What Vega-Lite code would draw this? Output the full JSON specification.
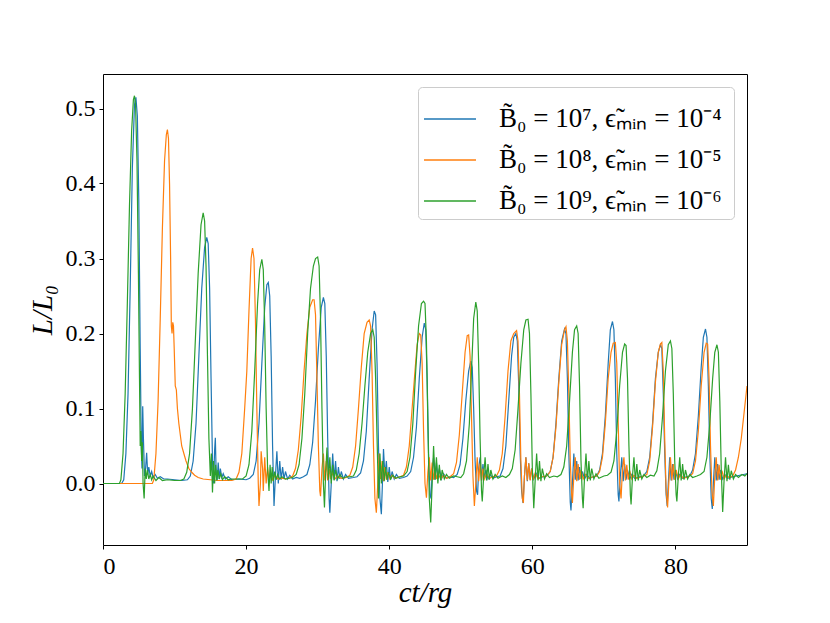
{
  "$schema": "https://vega.github.io/schema/vega-lite/v6.json",
  "width": 644,
  "height": 471,
  "autosize": "none",
  "padding": {"left": 103, "top": 74, "right": 83, "bottom": 78},
  "background": "white",
  "config": {
    "font": "Liberation Serif",
    "view": {"stroke": "#000000", "strokeWidth": 1},
    "axis": {
      "domain": false,
      "grid": false,
      "ticks": true,
      "tickColor": "#000000",
      "tickSize": 4,
      "labelFont": "Liberation Serif",
      "labelFontSize": 24,
      "labelColor": "#000000",
      "titleFont": "Liberation Serif",
      "titleFontSize": 29,
      "titleFontWeight": "normal",
      "titleFontStyle": "italic",
      "titleColor": "#000000"
    },
    "legend": {"labelFont": "Liberation Serif"}
  },
  "encoding": {
    "x": {
      "field": "t",
      "type": "quantitative",
      "scale": {"domain": [0, 90], "nice": false, "zero": false},
      "axis": {"values": [0, 20, 40, 60, 80], "format": "d", "labelFont": "Liberation Serif", "labelFontSize": 24, "labelPadding": 5, "title": "ct/rg", "titlePadding": 0}
    },
    "y": {
      "field": "L",
      "type": "quantitative",
      "scale": {"domain": [-0.082, 0.546], "nice": false, "zero": false},
      "axis": {"values": [0, 0.1, 0.2, 0.3, 0.4, 0.5], "format": ".1f", "labelFont": "Liberation Serif", "labelFontSize": 24, "labelPadding": 4, "title": "L/L₀", "titlePadding": 8}
    }
  },
  "layer": [
    {
      "data": {"values": [
        {"t":0,"L":0},{"t":2.6,"L":0},{"t":2.9,"L":0.005},{"t":3.2,"L":0.04},{"t":3.5,"L":0.12},{"t":3.8,"L":0.26},{"t":4.1,"L":0.42},{"t":4.4,"L":0.505},{"t":4.6,"L":0.515},{"t":4.8,"L":0.49},{"t":5.0,"L":0.38},{"t":5.2,"L":0.18},{"t":5.35,"L":0.05},{"t":5.45,"L":0.02},{"t":5.55,"L":0.103},{"t":5.65,"L":0.06},{"t":5.8,"L":0.01},{"t":5.95,"L":0.02},{"t":6.1,"L":0.041},{"t":6.25,"L":0.012},{"t":6.4,"L":0.022},{"t":6.6,"L":0.01},{"t":6.8,"L":0.016},{"t":7.0,"L":0.008},{"t":7.3,"L":0.012},{"t":7.6,"L":0.007},{"t":8.0,"L":0.009},{"t":8.5,"L":0.006},{"t":9,"L":0.006},{"t":10,"L":0.005},{"t":11,"L":0.004},{"t":11.8,"L":0.005},
        {"t":12.2,"L":0.01},{"t":12.6,"L":0.03},{"t":13.0,"L":0.08},{"t":13.4,"L":0.17},{"t":13.8,"L":0.26},{"t":14.2,"L":0.315},{"t":14.5,"L":0.328},{"t":14.7,"L":0.32},{"t":14.9,"L":0.26},{"t":15.1,"L":0.14},{"t":15.3,"L":0.03},{"t":15.45,"L":0.0},{"t":15.6,"L":0.045},{"t":15.7,"L":0.061},{"t":15.8,"L":0.02},{"t":15.95,"L":0.004},{"t":16.1,"L":0.028},{"t":16.25,"L":0.006},{"t":16.4,"L":0.02},{"t":16.6,"L":0.008},{"t":16.8,"L":0.013},{"t":17.1,"L":0.006},{"t":17.5,"L":0.009},{"t":18,"L":0.005},{"t":19,"L":0.006},{"t":20,"L":0.005},
        {"t":20.5,"L":0.007},{"t":21.0,"L":0.012},{"t":21.4,"L":0.03},{"t":21.8,"L":0.08},{"t":22.2,"L":0.16},{"t":22.6,"L":0.235},{"t":22.9,"L":0.265},{"t":23.1,"L":0.268},{"t":23.3,"L":0.25},{"t":23.5,"L":0.17},{"t":23.7,"L":0.05},{"t":23.9,"L":-0.03},{"t":24.1,"L":0.01},{"t":24.3,"L":0.043},{"t":24.5,"L":0.0},{"t":24.7,"L":0.03},{"t":24.9,"L":0.005},{"t":25.1,"L":0.022},{"t":25.3,"L":0.006},{"t":25.5,"L":0.016},{"t":25.8,"L":0.006},{"t":26.1,"L":0.011},{"t":26.5,"L":0.006},{"t":27,"L":0.008},{"t":27.5,"L":0.007},
        {"t":28,"L":0.009},{"t":28.5,"L":0.012},{"t":28.9,"L":0.025},{"t":29.3,"L":0.055},{"t":29.7,"L":0.11},{"t":30.1,"L":0.18},{"t":30.5,"L":0.235},{"t":30.8,"L":0.248},{"t":31.0,"L":0.24},{"t":31.2,"L":0.17},{"t":31.4,"L":0.06},{"t":31.6,"L":-0.02},{"t":31.7,"L":-0.039},{"t":31.9,"L":0.0},{"t":32.1,"L":0.04},{"t":32.3,"L":0.005},{"t":32.5,"L":0.03},{"t":32.7,"L":0.003},{"t":32.9,"L":0.022},{"t":33.1,"L":0.006},{"t":33.3,"L":0.016},{"t":33.6,"L":0.006},{"t":33.9,"L":0.012},{"t":34.3,"L":0.007},{"t":35,"L":0.008},{"t":35.5,"L":0.009},
        {"t":36.0,"L":0.014},{"t":36.4,"L":0.03},{"t":36.8,"L":0.07},{"t":37.2,"L":0.14},{"t":37.6,"L":0.205},{"t":37.9,"L":0.23},{"t":38.1,"L":0.225},{"t":38.3,"L":0.16},{"t":38.5,"L":0.05},{"t":38.7,"L":-0.02},{"t":38.9,"L":-0.041},{"t":39.05,"L":0.0},{"t":39.2,"L":0.046},{"t":39.4,"L":0.01},{"t":39.6,"L":0.03},{"t":39.8,"L":0.002},{"t":40.0,"L":0.022},{"t":40.2,"L":0.005},{"t":40.4,"L":0.016},{"t":40.7,"L":0.006},{"t":41.0,"L":0.012},{"t":41.4,"L":0.007},{"t":42,"L":0.008},{"t":42.5,"L":0.01},
        {"t":43.0,"L":0.016},{"t":43.4,"L":0.035},{"t":43.8,"L":0.075},{"t":44.2,"L":0.14},{"t":44.6,"L":0.195},{"t":44.9,"L":0.214},{"t":45.1,"L":0.205},{"t":45.3,"L":0.14},{"t":45.5,"L":0.04},{"t":45.7,"L":-0.015},{"t":45.85,"L":-0.02},{"t":46.0,"L":0.015},{"t":46.2,"L":0.035},{"t":46.4,"L":0.005},{"t":46.6,"L":0.028},{"t":46.8,"L":0.006},{"t":47.0,"L":0.02},{"t":47.3,"L":0.006},{"t":47.6,"L":0.013},{"t":48.0,"L":0.007},{"t":48.5,"L":0.009},{"t":49,"L":0.008},
        {"t":49.5,"L":0.012},{"t":49.9,"L":0.025},{"t":50.3,"L":0.06},{"t":50.7,"L":0.11},{"t":51.1,"L":0.15},{"t":51.4,"L":0.163},{"t":51.6,"L":0.155},{"t":51.8,"L":0.1},{"t":52.0,"L":0.03},{"t":52.2,"L":-0.01},{"t":52.35,"L":-0.015},{"t":52.5,"L":0.02},{"t":52.7,"L":0.035},{"t":52.9,"L":0.004},{"t":53.1,"L":0.026},{"t":53.3,"L":0.006},{"t":53.5,"L":0.018},{"t":53.8,"L":0.006},{"t":54.1,"L":0.012},{"t":54.5,"L":0.007},{"t":55,"L":0.009},
        {"t":55.5,"L":0.01},{"t":55.9,"L":0.02},{"t":56.3,"L":0.05},{"t":56.7,"L":0.11},{"t":57.1,"L":0.17},{"t":57.4,"L":0.195},{"t":57.7,"L":0.2},{"t":57.9,"L":0.19},{"t":58.1,"L":0.13},{"t":58.3,"L":0.04},{"t":58.5,"L":-0.01},{"t":58.7,"L":-0.026},{"t":58.9,"L":0.01},{"t":59.1,"L":0.035},{"t":59.3,"L":0.003},{"t":59.5,"L":0.027},{"t":59.7,"L":0.005},{"t":59.9,"L":0.02},{"t":60.2,"L":0.006},{"t":60.5,"L":0.014},{"t":60.9,"L":0.007},{"t":61.5,"L":0.009},{"t":62,"L":0.01},
        {"t":62.5,"L":0.016},{"t":62.9,"L":0.035},{"t":63.3,"L":0.08},{"t":63.7,"L":0.14},{"t":64.1,"L":0.19},{"t":64.5,"L":0.206},{"t":64.7,"L":0.2},{"t":64.9,"L":0.14},{"t":65.1,"L":0.04},{"t":65.3,"L":-0.025},{"t":65.4,"L":-0.036},{"t":65.6,"L":0.0},{"t":65.8,"L":0.04},{"t":66.0,"L":0.005},{"t":66.2,"L":0.03},{"t":66.4,"L":0.004},{"t":66.6,"L":0.022},{"t":66.8,"L":0.006},{"t":67.0,"L":0.016},{"t":67.3,"L":0.006},{"t":67.6,"L":0.012},{"t":68,"L":0.007},{"t":68.5,"L":0.009},{"t":69,"L":0.01},
        {"t":69.4,"L":0.018},{"t":69.8,"L":0.04},{"t":70.2,"L":0.09},{"t":70.6,"L":0.16},{"t":70.9,"L":0.205},{"t":71.2,"L":0.216},{"t":71.4,"L":0.205},{"t":71.6,"L":0.14},{"t":71.8,"L":0.04},{"t":72.0,"L":-0.015},{"t":72.1,"L":-0.024},{"t":72.3,"L":0.01},{"t":72.5,"L":0.035},{"t":72.7,"L":0.003},{"t":72.9,"L":0.026},{"t":73.1,"L":0.005},{"t":73.3,"L":0.018},{"t":73.6,"L":0.006},{"t":73.9,"L":0.012},{"t":74.3,"L":0.007},{"t":75,"L":0.009},{"t":75.5,"L":0.01},
        {"t":76.0,"L":0.016},{"t":76.4,"L":0.035},{"t":76.8,"L":0.08},{"t":77.2,"L":0.14},{"t":77.6,"L":0.175},{"t":77.9,"L":0.185},{"t":78.1,"L":0.18},{"t":78.3,"L":0.12},{"t":78.5,"L":0.04},{"t":78.7,"L":-0.015},{"t":78.85,"L":-0.03},{"t":79.0,"L":0.0},{"t":79.2,"L":0.035},{"t":79.4,"L":0.004},{"t":79.6,"L":0.026},{"t":79.8,"L":0.005},{"t":80.0,"L":0.018},{"t":80.3,"L":0.006},{"t":80.6,"L":0.012},{"t":81,"L":0.007},{"t":81.5,"L":0.009},{"t":82,"L":0.01},
        {"t":82.4,"L":0.018},{"t":82.8,"L":0.04},{"t":83.2,"L":0.09},{"t":83.6,"L":0.155},{"t":83.9,"L":0.195},{"t":84.2,"L":0.206},{"t":84.4,"L":0.195},{"t":84.6,"L":0.13},{"t":84.8,"L":0.04},{"t":85.0,"L":-0.02},{"t":85.15,"L":-0.034},{"t":85.3,"L":0.0},{"t":85.5,"L":0.035},{"t":85.7,"L":0.004},{"t":85.9,"L":0.026},{"t":86.1,"L":0.005},{"t":86.3,"L":0.018},{"t":86.6,"L":0.006},{"t":86.9,"L":0.012},{"t":87.3,"L":0.007},{"t":88,"L":0.009},{"t":88.5,"L":0.01},{"t":89,"L":0.011},{"t":89.5,"L":0.012},{"t":90,"L":0.013}
      ]},
      "mark": {"type": "line", "strokeWidth": 1.2, "clip": true},
      "encoding": {
        "color": {
          "datum": "B̃₀ = 10⁷,  ϵ̃ₘᵢₙ = 10⁻⁴",
          "type": "nominal",
          "scale": {
            "domain": ["B̃₀ = 10⁷,  ϵ̃ₘᵢₙ = 10⁻⁴", "B̃₀ = 10⁸,  ϵ̃ₘᵢₙ = 10⁻⁵", "B̃₀ = 10⁹,  ϵ̃ₘᵢₙ = 10⁻⁶"],
            "range": ["#1f77b4", "#ff7f0e", "#2ca02c"]
          },
          "legend": {
            "title": null,
            "orient": "top-right",
            "offset": 13,
            "padding": 5,
            "fillColor": "white",
            "strokeColor": "#cccccc",
            "cornerRadius": 4,
            "symbolType": "stroke",
            "symbolSize": 2700,
            "symbolStrokeWidth": 1.5,
            "labelFont": "Liberation Serif",
            "labelFontSize": 27,
            "labelColor": "#000000",
            "labelOffset": 22,
            "labelLimit": 400,
            "rowPadding": 1
          }
        }
      }
    },
    {
      "data": {"values": [
        {"t":0,"L":0},{"t":6.9,"L":0},{"t":7.1,"L":0.005},{"t":7.4,"L":0.04},{"t":7.7,"L":0.11},{"t":8.0,"L":0.22},{"t":8.3,"L":0.34},{"t":8.6,"L":0.43},{"t":8.85,"L":0.465},{"t":9.0,"L":0.472},{"t":9.15,"L":0.46},{"t":9.3,"L":0.4},{"t":9.45,"L":0.3},{"t":9.55,"L":0.21},{"t":9.65,"L":0.2},{"t":9.75,"L":0.215},{"t":9.85,"L":0.21},{"t":9.95,"L":0.18},{"t":10.1,"L":0.13},{"t":10.25,"L":0.125},{"t":10.4,"L":0.1},{"t":10.6,"L":0.08},{"t":10.8,"L":0.065},{"t":11.0,"L":0.05},{"t":11.3,"L":0.04},{"t":11.6,"L":0.03},{"t":12.0,"L":0.02},{"t":12.4,"L":0.015},{"t":12.8,"L":0.011},{"t":13.3,"L":0.008},{"t":14,"L":0.006},{"t":15,"L":0.005},{"t":16,"L":0.004},{"t":17,"L":0.004},{"t":18,"L":0.004},
        {"t":18.6,"L":0.006},{"t":19.0,"L":0.015},{"t":19.4,"L":0.04},{"t":19.8,"L":0.1},{"t":20.1,"L":0.15},{"t":20.4,"L":0.23},{"t":20.7,"L":0.3},{"t":20.9,"L":0.314},{"t":21.1,"L":0.3},{"t":21.3,"L":0.22},{"t":21.5,"L":0.1},{"t":21.7,"L":0.0},{"t":21.8,"L":-0.03},{"t":22.0,"L":0.0},{"t":22.1,"L":0.043},{"t":22.3,"L":0.02},{"t":22.4,"L":-0.01},{"t":22.6,"L":0.035},{"t":22.8,"L":0.0},{"t":23.0,"L":0.022},{"t":23.2,"L":0.003},{"t":23.4,"L":0.015},{"t":23.7,"L":0.005},{"t":24,"L":0.01},{"t":24.5,"L":0.006},{"t":25,"L":0.007},{"t":25.5,"L":0.006},{"t":26,"L":0.007},
        {"t":26.5,"L":0.01},{"t":26.9,"L":0.02},{"t":27.3,"L":0.045},{"t":27.7,"L":0.09},{"t":28.1,"L":0.15},{"t":28.5,"L":0.2},{"t":28.9,"L":0.235},{"t":29.3,"L":0.245},{"t":29.5,"L":0.245},{"t":29.7,"L":0.225},{"t":29.9,"L":0.14},{"t":30.1,"L":0.05},{"t":30.3,"L":-0.01},{"t":30.4,"L":-0.017},{"t":30.6,"L":0.02},{"t":30.8,"L":0.04},{"t":31.0,"L":0.004},{"t":31.2,"L":0.03},{"t":31.4,"L":0.004},{"t":31.6,"L":0.02},{"t":31.8,"L":0.006},{"t":32.0,"L":0.014},{"t":32.4,"L":0.006},{"t":32.8,"L":0.01},{"t":33.3,"L":0.007},{"t":34,"L":0.008},
        {"t":34.5,"L":0.011},{"t":34.9,"L":0.022},{"t":35.3,"L":0.05},{"t":35.7,"L":0.1},{"t":36.1,"L":0.155},{"t":36.5,"L":0.2},{"t":36.9,"L":0.215},{"t":37.2,"L":0.218},{"t":37.4,"L":0.21},{"t":37.6,"L":0.15},{"t":37.8,"L":0.05},{"t":38.0,"L":-0.02},{"t":38.2,"L":-0.039},{"t":38.4,"L":0.0},{"t":38.6,"L":0.04},{"t":38.8,"L":0.006},{"t":39.0,"L":0.03},{"t":39.2,"L":0.003},{"t":39.4,"L":0.022},{"t":39.6,"L":0.005},{"t":39.8,"L":0.015},{"t":40.1,"L":0.006},{"t":40.4,"L":0.011},{"t":40.8,"L":0.007},{"t":41.5,"L":0.009},
        {"t":42,"L":0.011},{"t":42.4,"L":0.022},{"t":42.8,"L":0.05},{"t":43.2,"L":0.1},{"t":43.6,"L":0.15},{"t":43.9,"L":0.185},{"t":44.2,"L":0.2},{"t":44.4,"L":0.198},{"t":44.6,"L":0.16},{"t":44.8,"L":0.07},{"t":45.0,"L":0.0},{"t":45.2,"L":-0.019},{"t":45.4,"L":0.015},{"t":45.6,"L":0.035},{"t":45.8,"L":0.004},{"t":46.0,"L":0.028},{"t":46.2,"L":0.005},{"t":46.4,"L":0.02},{"t":46.6,"L":0.006},{"t":46.8,"L":0.014},{"t":47.2,"L":0.006},{"t":47.6,"L":0.011},{"t":48,"L":0.007},{"t":48.5,"L":0.009},
        {"t":49.0,"L":0.013},{"t":49.4,"L":0.028},{"t":49.8,"L":0.065},{"t":50.2,"L":0.12},{"t":50.6,"L":0.175},{"t":50.9,"L":0.197},{"t":51.1,"L":0.198},{"t":51.3,"L":0.17},{"t":51.5,"L":0.09},{"t":51.7,"L":0.01},{"t":51.9,"L":-0.03},{"t":52.1,"L":0.0},{"t":52.3,"L":0.035},{"t":52.5,"L":0.003},{"t":52.7,"L":0.027},{"t":52.9,"L":0.004},{"t":53.1,"L":0.02},{"t":53.3,"L":0.006},{"t":53.6,"L":0.013},{"t":54,"L":0.007},{"t":54.5,"L":0.009},{"t":55,"L":0.01},
        {"t":55.4,"L":0.018},{"t":55.8,"L":0.04},{"t":56.2,"L":0.09},{"t":56.6,"L":0.15},{"t":57.0,"L":0.19},{"t":57.4,"L":0.2},{"t":57.8,"L":0.204},{"t":58.0,"L":0.19},{"t":58.2,"L":0.12},{"t":58.4,"L":0.03},{"t":58.6,"L":-0.02},{"t":58.75,"L":-0.026},{"t":58.9,"L":0.01},{"t":59.1,"L":0.035},{"t":59.3,"L":0.004},{"t":59.5,"L":0.027},{"t":59.7,"L":0.004},{"t":59.9,"L":0.02},{"t":60.1,"L":0.005},{"t":60.4,"L":0.014},{"t":60.8,"L":0.006},{"t":61.3,"L":0.009},{"t":62,"L":0.01},
        {"t":62.5,"L":0.016},{"t":62.9,"L":0.035},{"t":63.3,"L":0.075},{"t":63.7,"L":0.135},{"t":64.1,"L":0.185},{"t":64.5,"L":0.205},{"t":64.7,"L":0.209},{"t":64.9,"L":0.19},{"t":65.1,"L":0.12},{"t":65.3,"L":0.03},{"t":65.5,"L":-0.015},{"t":65.6,"L":-0.026},{"t":65.8,"L":0.01},{"t":66.0,"L":0.035},{"t":66.2,"L":0.003},{"t":66.4,"L":0.026},{"t":66.6,"L":0.005},{"t":66.8,"L":0.018},{"t":67.1,"L":0.006},{"t":67.4,"L":0.012},{"t":67.8,"L":0.007},{"t":68.5,"L":0.009},{"t":69,"L":0.01},
        {"t":69.4,"L":0.016},{"t":69.8,"L":0.035},{"t":70.2,"L":0.08},{"t":70.6,"L":0.14},{"t":71.0,"L":0.175},{"t":71.3,"L":0.187},{"t":71.6,"L":0.188},{"t":71.8,"L":0.16},{"t":72.0,"L":0.08},{"t":72.2,"L":0.0},{"t":72.4,"L":-0.02},{"t":72.6,"L":0.02},{"t":72.8,"L":0.035},{"t":73.0,"L":0.004},{"t":73.2,"L":0.025},{"t":73.4,"L":0.005},{"t":73.6,"L":0.017},{"t":73.9,"L":0.006},{"t":74.2,"L":0.011},{"t":74.6,"L":0.007},{"t":75.3,"L":0.009},
        {"t":76,"L":0.012},{"t":76.4,"L":0.03},{"t":76.8,"L":0.075},{"t":77.2,"L":0.135},{"t":77.6,"L":0.175},{"t":77.9,"L":0.186},{"t":78.1,"L":0.188},{"t":78.3,"L":0.15},{"t":78.5,"L":0.06},{"t":78.7,"L":-0.01},{"t":78.9,"L":-0.032},{"t":79.1,"L":0.005},{"t":79.3,"L":0.035},{"t":79.5,"L":0.004},{"t":79.7,"L":0.026},{"t":79.9,"L":0.005},{"t":80.1,"L":0.018},{"t":80.4,"L":0.006},{"t":80.7,"L":0.012},{"t":81.1,"L":0.007},{"t":81.8,"L":0.009},
        {"t":82.4,"L":0.013},{"t":82.8,"L":0.03},{"t":83.2,"L":0.07},{"t":83.6,"L":0.13},{"t":84.0,"L":0.175},{"t":84.3,"L":0.187},{"t":84.5,"L":0.186},{"t":84.7,"L":0.14},{"t":84.9,"L":0.05},{"t":85.1,"L":-0.01},{"t":85.3,"L":-0.03},{"t":85.5,"L":0.01},{"t":85.7,"L":0.035},{"t":85.9,"L":0.004},{"t":86.1,"L":0.025},{"t":86.3,"L":0.005},{"t":86.5,"L":0.017},{"t":86.8,"L":0.006},{"t":87.1,"L":0.011},{"t":87.5,"L":0.008},{"t":88,"L":0.01},{"t":88.4,"L":0.018},{"t":88.8,"L":0.035},{"t":89.2,"L":0.06},{"t":89.6,"L":0.095},{"t":90,"L":0.13}
      ]},
      "mark": {"type": "line", "strokeWidth": 1.2, "clip": true},
      "encoding": {"color": {"datum": "B̃₀ = 10⁸,  ϵ̃ₘᵢₙ = 10⁻⁵", "type": "nominal"}}
    },
    {
      "data": {"values": [
        {"t":0,"L":0},{"t":2.3,"L":0},{"t":2.5,"L":0.005},{"t":2.8,"L":0.04},{"t":3.1,"L":0.12},{"t":3.4,"L":0.24},{"t":3.7,"L":0.37},{"t":4.0,"L":0.47},{"t":4.25,"L":0.512},{"t":4.4,"L":0.517},{"t":4.55,"L":0.505},{"t":4.75,"L":0.43},{"t":4.95,"L":0.28},{"t":5.1,"L":0.14},{"t":5.2,"L":0.05},{"t":5.3,"L":0.07},{"t":5.4,"L":0.03},{"t":5.5,"L":0.055},{"t":5.6,"L":0.0},{"t":5.75,"L":-0.02},{"t":5.9,"L":0.02},{"t":6.05,"L":0.006},{"t":6.2,"L":0.018},{"t":6.4,"L":0.006},{"t":6.6,"L":0.012},{"t":6.8,"L":0.005},{"t":7.0,"L":0.01},{"t":7.4,"L":0.004},{"t":7.8,"L":0.008},{"t":8.3,"L":0.004},{"t":9,"L":0.005},{"t":10,"L":0.004},{"t":10.8,"L":0.004},
        {"t":11.3,"L":0.006},{"t":11.7,"L":0.015},{"t":12.1,"L":0.04},{"t":12.5,"L":0.1},{"t":12.9,"L":0.19},{"t":13.3,"L":0.28},{"t":13.7,"L":0.345},{"t":14.0,"L":0.361},{"t":14.2,"L":0.35},{"t":14.4,"L":0.29},{"t":14.6,"L":0.17},{"t":14.8,"L":0.06},{"t":15.0,"L":0.01},{"t":15.15,"L":0.04},{"t":15.3,"L":-0.012},{"t":15.45,"L":0.03},{"t":15.6,"L":0.0},{"t":15.75,"L":0.025},{"t":15.9,"L":0.004},{"t":16.05,"L":0.018},{"t":16.25,"L":0.006},{"t":16.45,"L":0.013},{"t":16.7,"L":0.005},{"t":17,"L":0.009},{"t":17.5,"L":0.005},{"t":18,"L":0.006},{"t":19,"L":0.006},{"t":19.5,"L":0.006},
        {"t":20.0,"L":0.01},{"t":20.4,"L":0.025},{"t":20.8,"L":0.07},{"t":21.2,"L":0.15},{"t":21.6,"L":0.24},{"t":21.9,"L":0.285},{"t":22.2,"L":0.299},{"t":22.4,"L":0.285},{"t":22.6,"L":0.21},{"t":22.8,"L":0.1},{"t":23.0,"L":0.02},{"t":23.2,"L":-0.01},{"t":23.35,"L":0.025},{"t":23.5,"L":0.0},{"t":23.65,"L":0.022},{"t":23.8,"L":0.003},{"t":24.0,"L":0.016},{"t":24.2,"L":0.005},{"t":24.4,"L":0.012},{"t":24.7,"L":0.006},{"t":25.0,"L":0.009},{"t":25.5,"L":0.006},{"t":26,"L":0.007},{"t":26.5,"L":0.008},
        {"t":27.0,"L":0.012},{"t":27.4,"L":0.025},{"t":27.8,"L":0.06},{"t":28.2,"L":0.12},{"t":28.6,"L":0.2},{"t":29.0,"L":0.26},{"t":29.4,"L":0.29},{"t":29.7,"L":0.3},{"t":30.0,"L":0.302},{"t":30.2,"L":0.29},{"t":30.4,"L":0.22},{"t":30.6,"L":0.1},{"t":30.8,"L":0.0},{"t":30.95,"L":-0.032},{"t":31.1,"L":0.01},{"t":31.3,"L":0.048},{"t":31.5,"L":0.005},{"t":31.7,"L":0.035},{"t":31.9,"L":0.0},{"t":32.1,"L":0.025},{"t":32.3,"L":0.004},{"t":32.5,"L":0.018},{"t":32.8,"L":0.006},{"t":33.1,"L":0.012},{"t":33.5,"L":0.007},{"t":34,"L":0.009},{"t":34.5,"L":0.009},
        {"t":35,"L":0.01},{"t":35.4,"L":0.018},{"t":35.8,"L":0.04},{"t":36.2,"L":0.08},{"t":36.6,"L":0.13},{"t":37.0,"L":0.175},{"t":37.4,"L":0.2},{"t":37.7,"L":0.205},{"t":37.9,"L":0.195},{"t":38.1,"L":0.14},{"t":38.3,"L":0.06},{"t":38.5,"L":-0.02},{"t":38.7,"L":0.04},{"t":38.9,"L":0.0},{"t":39.1,"L":0.03},{"t":39.3,"L":0.003},{"t":39.5,"L":0.022},{"t":39.7,"L":0.005},{"t":39.9,"L":0.015},{"t":40.2,"L":0.006},{"t":40.5,"L":0.011},{"t":40.9,"L":0.007},{"t":41.5,"L":0.009},{"t":42.0,"L":0.01},
        {"t":42.5,"L":0.016},{"t":42.9,"L":0.035},{"t":43.3,"L":0.08},{"t":43.7,"L":0.15},{"t":44.1,"L":0.21},{"t":44.5,"L":0.24},{"t":44.8,"L":0.243},{"t":45.0,"L":0.24},{"t":45.2,"L":0.19},{"t":45.4,"L":0.08},{"t":45.6,"L":-0.02},{"t":45.8,"L":-0.052},{"t":46.0,"L":0.0},{"t":46.2,"L":0.05},{"t":46.4,"L":0.005},{"t":46.6,"L":0.035},{"t":46.8,"L":0.0},{"t":47.0,"L":0.025},{"t":47.2,"L":0.004},{"t":47.4,"L":0.018},{"t":47.7,"L":0.006},{"t":48.0,"L":0.012},{"t":48.4,"L":0.007},{"t":49,"L":0.01},{"t":49.5,"L":0.009},{"t":50,"L":0.008},
        {"t":50.4,"L":0.013},{"t":50.8,"L":0.03},{"t":51.2,"L":0.08},{"t":51.5,"L":0.15},{"t":51.8,"L":0.22},{"t":52.1,"L":0.242},{"t":52.3,"L":0.23},{"t":52.5,"L":0.16},{"t":52.7,"L":0.06},{"t":52.9,"L":-0.01},{"t":53.0,"L":-0.024},{"t":53.2,"L":0.01},{"t":53.4,"L":0.035},{"t":53.6,"L":0.004},{"t":53.8,"L":0.026},{"t":54.0,"L":0.005},{"t":54.2,"L":0.018},{"t":54.5,"L":0.006},{"t":54.8,"L":0.012},{"t":55.2,"L":0.007},{"t":55.8,"L":0.01},{"t":56.3,"L":0.008},{"t":56.8,"L":0.012},
        {"t":57.2,"L":0.02},{"t":57.6,"L":0.045},{"t":58.0,"L":0.1},{"t":58.4,"L":0.16},{"t":58.8,"L":0.205},{"t":59.1,"L":0.218},{"t":59.4,"L":0.219},{"t":59.6,"L":0.2},{"t":59.8,"L":0.12},{"t":60.0,"L":0.02},{"t":60.2,"L":-0.033},{"t":60.4,"L":0.005},{"t":60.6,"L":0.04},{"t":60.8,"L":0.004},{"t":61.0,"L":0.03},{"t":61.2,"L":0.003},{"t":61.4,"L":0.02},{"t":61.7,"L":0.006},{"t":62.0,"L":0.013},{"t":62.4,"L":0.008},{"t":63,"L":0.01},{"t":63.5,"L":0.009},
        {"t":64.0,"L":0.012},{"t":64.4,"L":0.022},{"t":64.8,"L":0.05},{"t":65.2,"L":0.11},{"t":65.6,"L":0.175},{"t":65.9,"L":0.205},{"t":66.2,"L":0.21},{"t":66.4,"L":0.2},{"t":66.6,"L":0.13},{"t":66.8,"L":0.03},{"t":67.0,"L":-0.02},{"t":67.1,"L":-0.033},{"t":67.3,"L":0.01},{"t":67.5,"L":0.04},{"t":67.7,"L":0.003},{"t":67.9,"L":0.03},{"t":68.1,"L":0.004},{"t":68.3,"L":0.02},{"t":68.6,"L":0.006},{"t":68.9,"L":0.013},{"t":69.3,"L":0.007},{"t":70,"L":0.01},{"t":70.5,"L":0.011},
        {"t":71.0,"L":0.015},{"t":71.4,"L":0.03},{"t":71.8,"L":0.07},{"t":72.2,"L":0.13},{"t":72.6,"L":0.175},{"t":72.9,"L":0.186},{"t":73.1,"L":0.184},{"t":73.3,"L":0.14},{"t":73.5,"L":0.05},{"t":73.7,"L":-0.015},{"t":73.8,"L":-0.028},{"t":74.0,"L":0.01},{"t":74.2,"L":0.035},{"t":74.4,"L":0.003},{"t":74.6,"L":0.026},{"t":74.8,"L":0.004},{"t":75.0,"L":0.018},{"t":75.3,"L":0.006},{"t":75.6,"L":0.012},{"t":76,"L":0.008},{"t":76.5,"L":0.011},{"t":77.0,"L":0.01},
        {"t":77.4,"L":0.017},{"t":77.8,"L":0.04},{"t":78.2,"L":0.09},{"t":78.6,"L":0.15},{"t":79.0,"L":0.185},{"t":79.3,"L":0.19},{"t":79.5,"L":0.18},{"t":79.7,"L":0.12},{"t":79.9,"L":0.03},{"t":80.1,"L":-0.015},{"t":80.2,"L":-0.024},{"t":80.4,"L":0.01},{"t":80.6,"L":0.035},{"t":80.8,"L":0.004},{"t":81.0,"L":0.026},{"t":81.2,"L":0.005},{"t":81.4,"L":0.018},{"t":81.7,"L":0.006},{"t":82.0,"L":0.012},{"t":82.4,"L":0.008},{"t":83,"L":0.01},{"t":83.5,"L":0.012},
        {"t":84.0,"L":0.016},{"t":84.4,"L":0.035},{"t":84.8,"L":0.08},{"t":85.2,"L":0.14},{"t":85.5,"L":0.175},{"t":85.8,"L":0.185},{"t":86.0,"L":0.175},{"t":86.2,"L":0.11},{"t":86.4,"L":0.02},{"t":86.6,"L":-0.038},{"t":86.8,"L":0.005},{"t":87.0,"L":0.035},{"t":87.2,"L":0.003},{"t":87.4,"L":0.025},{"t":87.6,"L":0.005},{"t":87.8,"L":0.017},{"t":88.1,"L":0.006},{"t":88.4,"L":0.012},{"t":88.8,"L":0.008},{"t":89.3,"L":0.012},{"t":89.7,"L":0.01},{"t":90,"L":0.013}
      ]},
      "mark": {"type": "line", "strokeWidth": 1.2, "clip": true},
      "encoding": {"color": {"datum": "B̃₀ = 10⁹,  ϵ̃ₘᵢₙ = 10⁻⁶", "type": "nominal"}}
    }
  ]
}
